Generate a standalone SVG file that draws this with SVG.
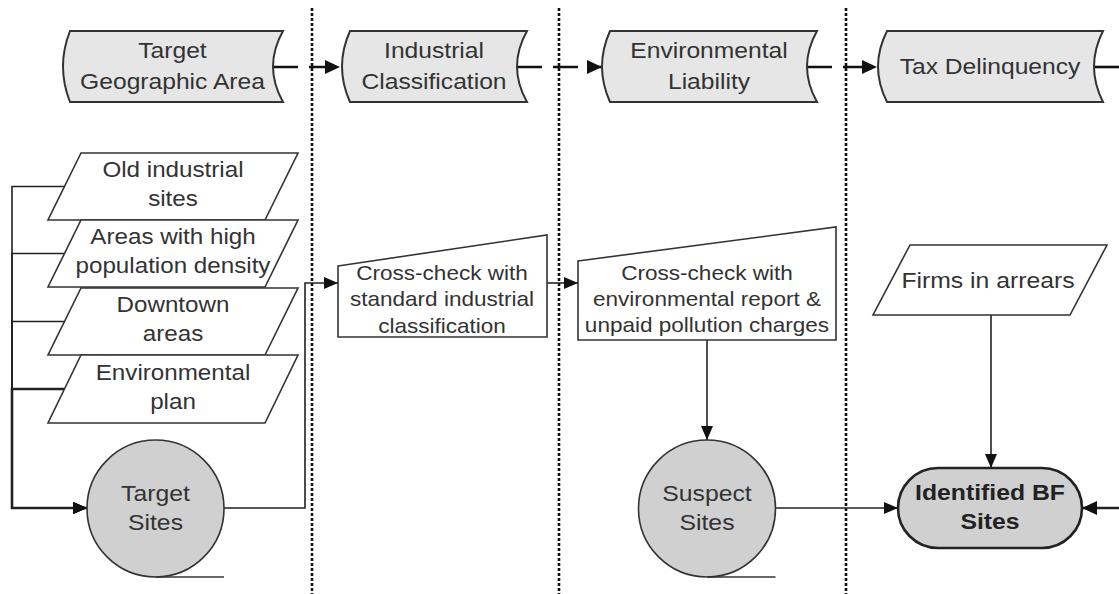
<svg xmlns="http://www.w3.org/2000/svg" width="1119" height="594" viewBox="0 0 1119 594">
<defs>
<marker id="ah" markerUnits="userSpaceOnUse" markerWidth="16" markerHeight="14" refX="15" refY="7" orient="auto"><path d="M0,0 L15,7 L0,14 Z" fill="#111"/></marker>
<marker id="as" markerUnits="userSpaceOnUse" markerWidth="14" markerHeight="12" refX="14" refY="6" orient="auto"><path d="M0,0 L14,6 L0,12 Z" fill="#111"/></marker>
</defs>
<style>
.t{font-family:"Liberation Sans",Arial,sans-serif;fill:#333;text-anchor:middle}
.fh{font-size:22.4px}
.fp{font-size:22px}
.fb{font-size:20.5px}
.fc{font-size:22.5px}
.bold{font-weight:bold;fill:#222}
.hdr{fill:#e6e6e6;stroke:#333;stroke-width:2}
.para{fill:#fff;stroke:#333;stroke-width:1.6}
.box{fill:#fff;stroke:#333;stroke-width:1.6}
.circ{fill:#d0d0d0;stroke:#333;stroke-width:1.6}
.term{fill:#d0d0d0;stroke:#222;stroke-width:2.6}
.tape{fill:none;stroke:#333;stroke-width:1.6}
.div{fill:none;stroke:#111;stroke-width:2.6;stroke-dasharray:3 2}
.c{fill:none;stroke:#222;stroke-width:1.6}
.hc{fill:none;stroke:#111;stroke-width:2.6;stroke-dasharray:25 11}
</style>
<rect width="1119" height="594" fill="#fff"/>
<g id="dividers">
<line class="div" x1="312" y1="8" x2="312" y2="594"/>
<line class="div" x1="559" y1="8" x2="559" y2="594"/>
<line class="div" x1="846" y1="8" x2="846" y2="594"/>
</g>
<g id="connectors">
<line class="hc" x1="273" y1="67" x2="340" y2="67" marker-end="url(#ah)"/>
<line class="hc" x1="517" y1="67" x2="602" y2="67" marker-end="url(#ah)"/>
<line class="hc" x1="807" y1="67" x2="877" y2="67" marker-end="url(#ah)"/>
<line class="hc" x1="1094" y1="67" x2="1119" y2="67"/>
<path class="c" d="M64.5,186.5 H12 V508 H87" marker-end="url(#as)"/>
<path class="c" d="M64.5,253.5 H12 V508 H87" marker-end="url(#as)"/>
<path class="c" d="M64.5,321.5 H12 V508 H87" marker-end="url(#as)"/>
<path class="c" style="stroke-width:2.6" d="M64.5,389 H12 V508 H87" marker-end="url(#as)"/>
<path class="c" d="M224,508 H305 V283 H338" marker-end="url(#as)"/>
<line class="c" x1="547" y1="283" x2="578" y2="283" marker-end="url(#as)"/>
<line class="c" x1="707" y1="340" x2="707" y2="440" marker-end="url(#as)"/>
<line class="c" x1="776" y1="508" x2="898" y2="508" marker-end="url(#as)"/>
<line class="c" x1="991" y1="315" x2="991" y2="468" marker-end="url(#as)"/>
<line class="c" style="stroke-width:2.4" x1="1119" y1="508" x2="1082" y2="508" marker-end="url(#ah)"/>
</g>
<g id="h-target-geo">
<path class="hdr" d="M70,31 L283,31 Q263,66.5 283,102 L70,102 Q56,66.5 70,31 Z"/>
<text class="t fh" transform="translate(172.5 0) scale(1.1 1)" y="58.5">Target</text>
<text class="t fh" transform="translate(172.5 0) scale(1.1 1)" y="89.5">Geographic Area</text>
</g>
<g id="h-industrial">
<path class="hdr" d="M350,31 L527,31 Q507,66.5 527,102 L350,102 Q334,66.5 350,31 Z"/>
<text class="t fh" transform="translate(434 0) scale(1.1 1)" y="58.5">Industrial</text>
<text class="t fh" transform="translate(434 0) scale(1.1 1)" y="89.5">Classification</text>
</g>
<g id="h-environmental">
<path class="hdr" d="M610,31 L817,31 Q797,66.5 817,102 L610,102 Q594,66.5 610,31 Z"/>
<text class="t fh" transform="translate(709 0) scale(1.1 1)" y="58.5">Environmental</text>
<text class="t fh" transform="translate(709 0) scale(1.1 1)" y="89.5">Liability</text>
</g>
<g id="h-tax">
<path class="hdr" d="M887,31 L1103,31 Q1085,66.5 1103,102 L887,102 Q869,66.5 887,31 Z"/>
<text class="t fh" transform="translate(990 0) scale(1.1 1)" y="74">Tax Delinquency</text>
</g>
<g id="p-old-industrial">
<path class="para" d="M81,153 L298,153 L265,220 L48,220 Z"/>
<text class="t fp" transform="translate(173 0) scale(1.1 1)" y="177">Old industrial</text>
<text class="t fp" transform="translate(173 0) scale(1.1 1)" y="206">sites</text>
</g>
<g id="p-population">
<path class="para" d="M81,220 L298,220 L265,287 L48,287 Z"/>
<text class="t fp" transform="translate(173 0) scale(1.1 1)" y="244">Areas with high</text>
<text class="t fp" transform="translate(173 0) scale(1.1 1)" y="273">population density</text>
</g>
<g id="p-downtown">
<path class="para" d="M81,288 L298,288 L265,355 L48,355 Z"/>
<text class="t fp" transform="translate(173 0) scale(1.1 1)" y="312">Downtown</text>
<text class="t fp" transform="translate(173 0) scale(1.1 1)" y="341">areas</text>
</g>
<g id="p-env-plan">
<path class="para" d="M81,355 L298,355 L265,423 L48,423 Z"/>
<text class="t fp" transform="translate(173 0) scale(1.1 1)" y="380">Environmental</text>
<text class="t fp" transform="translate(173 0) scale(1.1 1)" y="409">plan</text>
</g>
<g id="target-sites">
<circle class="circ" cx="155.5" cy="508.5" r="68.5"/>
<line class="tape" x1="155.5" y1="577" x2="224" y2="577"/>
<text class="t fc" transform="translate(155.5 0) scale(1.1 1)" y="501">Target</text>
<text class="t fc" transform="translate(155.5 0) scale(1.1 1)" y="530.5">Sites</text>
</g>
<g id="check-sic">
<path class="box" d="M338,266 L547,235 L547,337 L338,337 Z"/>
<text class="t fb" transform="translate(442 0) scale(1.1 1)" y="280.5">Cross-check with</text>
<text class="t fb" transform="translate(442 0) scale(1.1 1)" y="306.5">standard industrial</text>
<text class="t fb" transform="translate(442 0) scale(1.1 1)" y="333.5">classification</text>
</g>
<g id="check-env">
<path class="box" d="M578,261 L836,227 L836,340 L578,340 Z"/>
<text class="t fb" transform="translate(707 0) scale(1.1 1)" y="280.5">Cross-check with</text>
<text class="t fb" transform="translate(707 0) scale(1.1 1)" y="306.5">environmental report &amp;</text>
<text class="t fb" transform="translate(707 0) scale(1.1 1)" y="332">unpaid pollution charges</text>
</g>
<g id="suspect-sites">
<circle class="circ" cx="707" cy="508.5" r="68.5"/>
<line class="tape" x1="707" y1="577" x2="775.5" y2="577"/>
<text class="t fc" transform="translate(707 0) scale(1.1 1)" y="501">Suspect</text>
<text class="t fc" transform="translate(707 0) scale(1.1 1)" y="530.5">Sites</text>
</g>
<g id="firms-arrears">
<path class="para" d="M910,245 L1107,245 L1070,315 L873,315 Z"/>
<text class="t fc" transform="translate(988 0) scale(1.1 1)" y="288">Firms in arrears</text>
</g>
<g id="identified-bf">
<rect class="term" x="898" y="468" width="184" height="80" rx="40" ry="40"/>
<text class="t fc bold" transform="translate(990 0) scale(1.1 1)" y="500">Identified BF</text>
<text class="t fc bold" transform="translate(990 0) scale(1.1 1)" y="529">Sites</text>
</g>
</svg>
